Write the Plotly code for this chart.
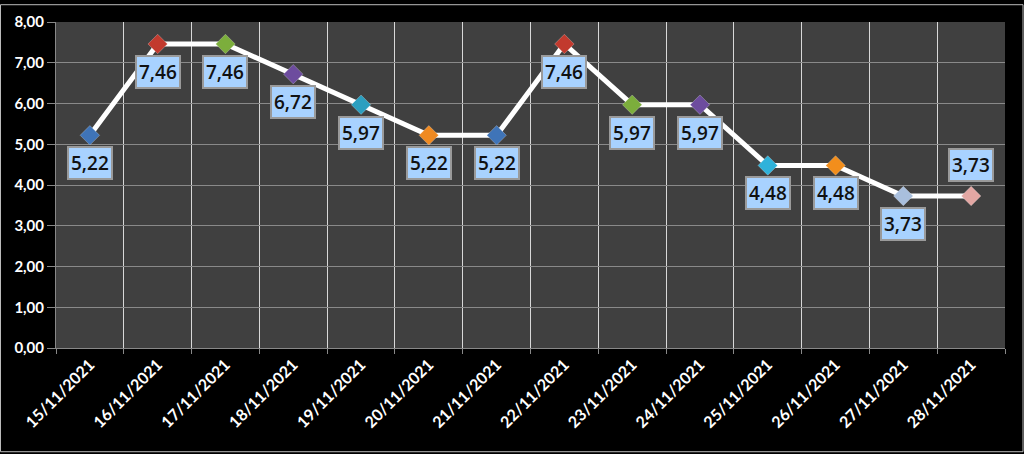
import plotly.graph_objects as go

dates = ["15/11/2021", "16/11/2021", "17/11/2021", "18/11/2021", "19/11/2021",
         "20/11/2021", "21/11/2021", "22/11/2021", "23/11/2021", "24/11/2021",
         "25/11/2021", "26/11/2021", "27/11/2021", "28/11/2021"]
values = [5.22, 7.46, 7.46, 6.72, 5.97, 5.22, 5.22, 7.46, 5.97, 5.97, 4.48, 4.48, 3.73, 3.73]
marker_colors = ["#3f74b8", "#c23a2e", "#7cae3c", "#6d4c9e", "#2b9fc0", "#ef8a22", "#3f74b8",
                 "#c23a2e", "#7cae3c", "#6d4c9e", "#2fb2da", "#f28e1c", "#a9bfdd", "#e3a7a3"]
labels_above = [False] * 13 + [True]

fig = go.Figure()
fig.add_trace(go.Scatter(
    x=dates, y=values, mode="lines+markers",
    line=dict(color="white", width=5),
    marker=dict(symbol="diamond", size=15, color=marker_colors,
                line=dict(color="rgba(255,255,255,0.25)", width=1)),
    hoverinfo="skip", showlegend=False,
))

for d, v, up in zip(dates, values, labels_above):
    fig.add_annotation(
        x=d, y=v, xref="x", yref="y",
        text=f"{v:.2f}".replace(".", ","),
        showarrow=False, yshift=31 if up else -28,
        font=dict(family="Open Sans, sans-serif", size=19, color="#111", weight=600),
        bgcolor="#a8d2ff", bordercolor="#9a9a9a", borderwidth=2, borderpad=2,
    )

fig.update_layout(
    width=1024, height=454,
    paper_bgcolor="black", plot_bgcolor="#404040",
    margin=dict(l=56, r=19, t=18, b=106),
    separators=",.",
    font=dict(family="Lato, Open Sans, sans-serif", color="white"),
    shapes=[dict(type="rect", xref="paper", yref="paper", x0=-55.5/949, x1=1+18/949,
                 y0=-105/330, y1=1+17.5/330, line=dict(color="#bbbbbb", width=1))],
)
fig.update_xaxes(
    type="category", tickson="boundaries", showgrid=True, gridcolor="#d8d8d8", gridwidth=1,
    tickangle=-45, ticks="outside", ticklen=5, tickcolor="#888",
    tickfont=dict(size=16, color="white", family="Lato, sans-serif", weight="bold"),
    showline=True, linecolor="#888", range=[-0.5, 13.5], mirror=False,
)
fig.update_yaxes(
    range=[0, 8], dtick=1, tickformat=".2f", showgrid=True, gridcolor="#8a8a8a",
    ticks="outside", ticklen=8, tickcolor="#888", zeroline=False,
    showline=True, linecolor="#888",
    tickfont=dict(size=15, color="white", family="Lato, sans-serif", weight="bold"),
)

fig.write_html("out.html", config={"displayModeBar": False},
               post_script="document.body.style.margin='0';document.body.style.background='black';")
